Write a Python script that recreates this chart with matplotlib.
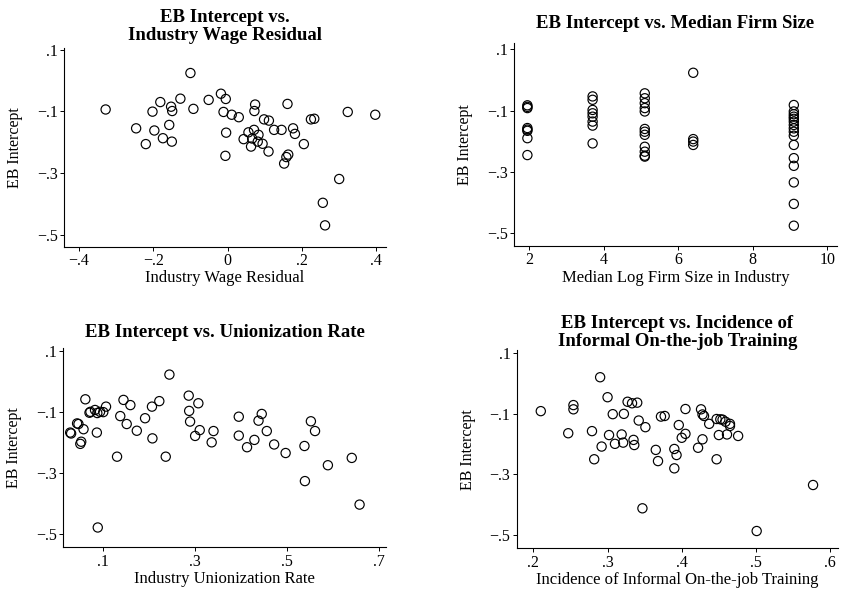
import matplotlib
matplotlib.use("Agg")
import matplotlib.pyplot as plt
import numpy as np

plt.rcParams['font.family'] = ['Liberation Serif', 'DejaVu Serif']

# panel 1: industry wage residual
wage_x = [-0.328, -0.246, -0.220, -0.202, -0.197, -0.181, -0.174, -0.157, -0.152, -0.149,
          -0.150, -0.127, -0.100, -0.092, -0.051, -0.018, -0.005, -0.011, -0.004, -0.006,
          0.011, 0.030, 0.043, 0.056, 0.063, 0.071, 0.072, 0.074, 0.081, 0.083,
          0.094, 0.098, 0.111, 0.110, 0.125, 0.145, 0.152, 0.158, 0.163, 0.161,
          0.176, 0.181, 0.205, 0.224, 0.233, 0.256, 0.262, 0.300, 0.323, 0.397, 0.066]
wage_y = [-0.094, -0.155, -0.206, -0.101, -0.162, -0.070, -0.187, -0.144, -0.085, -0.099,
          -0.198, -0.059, 0.024, -0.092, -0.063, -0.043, -0.060, -0.102, -0.169, -0.244,
          -0.111, -0.119, -0.190, -0.168, -0.214, -0.160, -0.099, -0.078, -0.198, -0.176,
          -0.205, -0.126, -0.130, -0.230, -0.160, -0.160, -0.269, -0.248, -0.240, -0.076,
          -0.155, -0.173, -0.206, -0.126, -0.124, -0.396, -0.469, -0.319, -0.102, -0.111, -0.188]

# panel 2: median log firm size
size_x = [1.95] * 8 + [3.7] * 8 + [5.1] * 12 + [6.4] * 4 + [9.1] * 16
size_y = [-0.083, -0.088, -0.092, -0.157, -0.162, -0.166, -0.190, -0.245,
          -0.054, -0.065, -0.098, -0.109, -0.120, -0.136, -0.149, -0.207,
          -0.044, -0.060, -0.076, -0.092, -0.103, -0.160, -0.169, -0.179, -0.218, -0.234, -0.247, -0.250,
          0.023, -0.193, -0.201, -0.212,
          -0.082, -0.103, -0.112, -0.120, -0.127, -0.136, -0.147, -0.158, -0.169, -0.182,
          -0.212, -0.255, -0.280, -0.334, -0.404, -0.475]

# panel 3: unionization rate
union_x = [0.030, 0.046, 0.050, 0.052, 0.057, 0.061, 0.070, 0.082, 0.093, 0.100,
           0.106, 0.087, 0.144, 0.159, 0.137, 0.151, 0.173, 0.043, 0.028, 0.086,
           0.130, 0.191, 0.206, 0.207, 0.222, 0.236, 0.244, 0.286, 0.287, 0.289,
           0.300, 0.307, 0.310, 0.336, 0.340, 0.395, 0.395, 0.413, 0.429, 0.438,
           0.445, 0.456, 0.472, 0.497, 0.538, 0.539, 0.552, 0.561, 0.589, 0.641,
           0.658, 0.088, 0.072]
union_y = [-0.170, -0.139, -0.204, -0.197, -0.156, -0.058, -0.102, -0.093, -0.099, -0.100,
           -0.082, -0.103, -0.060, -0.077, -0.113, -0.139, -0.161, -0.137, -0.167, -0.167,
           -0.246, -0.120, -0.082, -0.186, -0.064, -0.246, 0.023, -0.046, -0.096, -0.131,
           -0.178, -0.071, -0.159, -0.199, -0.162, -0.115, -0.177, -0.215, -0.191, -0.128,
           -0.106, -0.162, -0.206, -0.234, -0.211, -0.326, -0.130, -0.162, -0.274, -0.250,
           -0.403, -0.478, -0.099]

# panel 4: informal on-the-job training
train_x = [0.210, 0.247, 0.254, 0.254, 0.279, 0.282, 0.290, 0.292, 0.300, 0.302,
           0.307, 0.310, 0.319, 0.322, 0.321, 0.327, 0.333, 0.335, 0.336, 0.340,
           0.342, 0.351, 0.347, 0.365, 0.368, 0.372, 0.377, 0.390, 0.393, 0.390,
           0.396, 0.400, 0.405, 0.405, 0.422, 0.426, 0.428, 0.430, 0.428, 0.437,
           0.447, 0.447, 0.450, 0.455, 0.461, 0.465, 0.465, 0.476, 0.501, 0.577,
           0.452, 0.459]
train_y = [-0.091, -0.164, -0.071, -0.085, -0.157, -0.250, 0.021, -0.208, -0.045, -0.170,
           -0.101, -0.199, -0.168, -0.100, -0.195, -0.060, -0.065, -0.186, -0.203, -0.063,
           -0.122, -0.144, -0.412, -0.219, -0.256, -0.109, -0.107, -0.216, -0.236, -0.280,
           -0.137, -0.179, -0.166, -0.084, -0.212, -0.085, -0.102, -0.107, -0.184, -0.133,
           -0.250, -0.117, -0.170, -0.119, -0.168, -0.133, -0.140, -0.173, -0.487, -0.335,
           -0.118, -0.126]

y_ticks = [0.1, -0.1, -0.3, -0.5]
y_labels = ['.1', '\u2212.1', '\u2212.3', '\u2212.5']


def panel(rect, x, y, title, xlabel, xticks, xlabels, xlim, ylim, tpad):
    ax = fig.add_axes(rect)
    ax.scatter(x, y, s=44, facecolors='none', edgecolors='black', linewidths=0.85)
    ax.set_xlim(*xlim)
    ax.set_ylim(*ylim)
    ax.set_xticks(xticks)
    ax.set_xticklabels(xlabels)
    ax.set_yticks(y_ticks)
    ax.set_yticklabels(y_labels)
    for s in ['top', 'right']:
        ax.spines[s].set_visible(False)
    for s in ['left', 'bottom']:
        ax.spines[s].set_linewidth(0.8)
    ax.tick_params(direction='out', length=3, width=0.7, labelsize=11.5, pad=1.5)
    ax.set_xlabel(xlabel, fontsize=12, labelpad=1)
    ax.set_ylabel('EB Intercept', fontsize=11.5, labelpad=10)
    ax.set_title(title, fontsize=13.5, fontweight='bold', pad=tpad, linespacing=1.1)
    return ax


fig = plt.figure(figsize=(8.43, 5.91), dpi=100)

panel([0.0759, 0.5826, 0.3816, 0.3362], wage_x, wage_y,
      'EB Intercept vs.\nIndustry Wage Residual', 'Industry Wage Residual',
      [-0.4, -0.2, 0, 0.2, 0.4], ['\u2212.4', '\u2212.2', '0', '.2', '.4'],
      (-0.44, 0.425), (-0.538, 0.105), 5.8)

panel([0.6097, 0.5838, 0.3828, 0.3440], size_x, size_y,
      'EB Intercept vs. Median Firm Size', 'Median Log Firm Size in Industry',
      [2, 4, 6, 8, 10], ['2', '4', '6', '8', '10'],
      (1.59, 10.25), (-0.541, 0.121), 10.6)

panel([0.0751, 0.0739, 0.3825, 0.3367], union_x, union_y,
      'EB Intercept vs. Unionization Rate', 'Industry Unionization Rate',
      [0.1, 0.3, 0.5, 0.7], ['.1', '.3', '.5', '.7'],
      (0.013, 0.715), (-0.543, 0.109), 8.3)

panel([0.6129, 0.0723, 0.3815, 0.3355], train_x, train_y,
      'EB Intercept vs. Incidence of\nInformal On-the-job Training',
      'Incidence of Informal On-the-job Training',
      [0.2, 0.3, 0.4, 0.5, 0.6], ['.2', '.3', '.4', '.5', '.6'],
      (0.1775, 0.611), (-0.544, 0.111), 1.5)

fig.savefig('out.png', dpi=100)
